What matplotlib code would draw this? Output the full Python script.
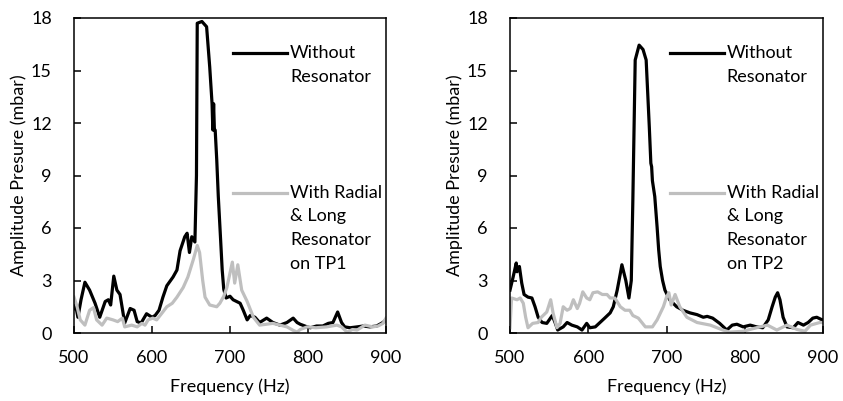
import matplotlib
matplotlib.use("Agg")
import matplotlib.pyplot as plt

plt.rcParams['font.family'] = ['Lato', 'DejaVu Sans']

# ---- Left panel (TP1) ----
f1_without = [500, 502, 505, 509, 514, 520, 527, 533, 540, 544, 547, 551, 555, 559, 565, 572, 577,
              581, 586, 593, 600, 604, 609, 614, 619, 627, 632, 636, 642, 645, 648, 651, 655, 657,
              658, 664, 670, 674, 677, 678, 679, 680, 681, 683, 685, 688, 690, 692, 695, 700,
              704, 713, 717, 722, 726, 732, 738, 747, 755, 764, 773, 781, 786, 790, 799, 803, 811,
              819, 826, 832, 838, 843, 847, 854, 863, 871, 879, 888, 896, 900]
v1_without = [1.4, 1.6, 0.9, 1.9, 2.9, 2.45, 1.7, 0.9, 1.8, 1.9, 1.6, 3.25, 2.45, 2.2, 0.57, 1.4, 1.3,
              0.65, 0.57, 1.1, 0.9, 1.0, 1.3, 2.05, 2.7, 3.2, 3.6, 4.7, 5.5, 5.7, 4.6, 5.5, 5.2, 9.0,
              17.7, 17.8, 17.5, 15.2, 13.1, 11.6, 13.1, 11.6, 11.6, 9.9, 7.8, 5.3, 3.6, 2.5, 2.0, 2.1,
              1.9, 1.7, 1.3, 0.75, 1.0, 0.9, 0.6, 0.85, 0.6, 0.45, 0.6, 0.85, 0.6, 0.5, 0.35, 0.3, 0.4,
              0.4, 0.55, 0.6, 1.2, 0.6, 0.35, 0.3, 0.35, 0.4, 0.35, 0.4, 0.6, 0.75]

f1_with = [500, 504, 508, 514, 520, 525, 529, 536, 542, 550, 556, 562, 565, 574, 581, 587, 591, 595,
           601, 606, 613, 619, 626, 632, 640, 646, 653, 658, 661, 665, 668, 674, 683, 687, 692, 696,
           703, 706, 710, 715, 722, 730, 738, 755, 773, 781, 786, 790, 799, 810, 824, 837, 843, 850,
           857, 863, 873, 883, 890, 896, 900]
v1_with = [2.05, 1.5, 0.75, 0.45, 1.3, 1.45, 0.75, 0.45, 0.85, 0.75, 0.65, 0.85, 0.35, 0.45, 0.35,
           0.55, 0.45, 0.75, 0.85, 0.75, 1.15, 1.5, 1.7, 2.05, 2.6, 3.2, 4.2, 5.0, 4.6, 3.0, 2.05,
           1.6, 1.5, 1.7, 2.1, 2.6, 4.05, 2.85, 3.9, 2.45, 1.8, 0.9, 0.45, 0.55, 0.35, 0.15, 0.05,
           0.2, 0.35, 0.3, 0.35, 0.45, 0.35, 0.05, 0.2, 0.17, 0.45, 0.35, 0.4, 0.55, 0.85]

# ---- Right panel (TP2) ----
f2_without = [500, 504, 508, 509, 512, 515, 518, 523, 528, 532, 536, 541, 547, 554, 558, 561, 568,
              573, 579, 586, 592, 598, 602, 609, 615, 621, 628, 632, 637, 641, 643, 648, 652, 655,
              657, 660, 665, 670, 674, 676, 678, 680, 681, 682, 685, 688, 690, 692, 695, 698, 704,
              713, 721, 730, 739, 747, 752, 759, 768, 777, 784, 790, 798, 807, 815, 823, 830, 835,
              839, 842, 845, 849, 854, 862, 868, 875, 881, 887, 892, 899, 900]
v2_without = [2.45, 3.2, 4.0, 3.5, 3.8, 2.85, 2.2, 2.05, 2.0, 1.5, 0.9, 0.6, 0.55, 1.0, 0.55, 0.17, 0.35,
              0.6, 0.45, 0.35, 0.17, 0.55, 0.3, 0.35, 0.6, 0.85, 1.15, 1.5, 2.45, 3.4, 3.9, 3.0, 2.0, 3.0,
              7.6, 15.6, 16.45, 16.2, 15.6, 13.7, 11.8, 9.7, 9.5, 8.7, 7.8, 6.05, 4.75, 3.8, 3.0, 2.45, 1.9,
              1.5, 1.3, 1.15, 1.05, 0.9, 0.95, 0.85, 0.55, 0.17, 0.45, 0.5, 0.35, 0.45, 0.35, 0.3, 0.75, 1.5,
              2.05, 2.3, 1.9, 0.9, 0.35, 0.3, 0.6, 0.45, 0.6, 0.85, 0.9, 0.75, 0.75]

f2_with = [500, 502, 509, 513, 517, 520, 523, 529, 536, 540, 547, 552, 555, 560, 564, 568, 573, 577,
           581, 586, 589, 593, 598, 602, 606, 612, 618, 624, 628, 634, 641, 647, 653, 657, 664, 673,
           682, 688, 696, 700, 703, 706, 711, 717, 726, 739, 756, 772, 781, 798, 815, 829, 841, 854,
           867, 877, 884, 896, 900]
v2_with = [0.3, 2.0, 1.9, 2.0, 1.7, 0.9, 0.3, 0.55, 0.6, 0.9, 1.2, 1.9, 1.15, 0.3, 0.55, 1.5, 1.3, 1.4,
           1.9, 1.4, 1.7, 2.35, 2.0, 1.9, 2.3, 2.35, 2.2, 2.2, 2.0, 2.0, 1.5, 1.3, 1.3, 1.0, 0.85, 0.35,
           0.35, 0.75, 1.5, 2.05, 2.3, 1.6, 2.2, 1.5, 0.9, 0.6, 0.45, 0.17, 0.05, 0.1, 0.3, 0.45, 0.17,
           0.45, 0.2, 0.1, 0.45, 0.6, 0.6]

x_ticks = [500, 600, 700, 800, 900]
y_ticks = [0, 3, 6, 9, 12, 15, 18]
label_without = "Without\nResonator"
labels_with = ["With Radial\n& Long\nResonator\non TP1", "With Radial\n& Long\nResonator\non TP2"]

BLACK = "#000000"
GRAY = "#BFBFBF"
FS = 13


def top_aligned(label):
    # pad with blank lines so the (centred) legend handle sits on the first line
    n = label.count("\n")
    return "\n" * n + label


fig = plt.figure(figsize=(8.43, 4.01), dpi=100)
W, H = 843, 401
ax1 = fig.add_axes([74 / W, (H - 333) / H, 312 / W, 315 / H])
ax2 = fig.add_axes([510 / W, (H - 333) / H, 313 / W, 315 / H])

panels = [
    (ax1, f1_without, v1_without, f1_with, v1_with, labels_with[0]),
    (ax2, f2_without, v2_without, f2_with, v2_with, labels_with[1]),
]

for ax, fw, vw, fr, vr, lab in panels:
    l1, = ax.plot(fw, vw, color=BLACK, lw=2.3, solid_joinstyle='round')
    l2, = ax.plot(fr, vr, color=GRAY, lw=2.3, solid_joinstyle='round')
    ax.set_xlim(500, 900)
    ax.set_ylim(0, 18)
    ax.set_xticks(x_ticks)
    ax.set_yticks(y_ticks)
    ax.tick_params(direction='in', length=5, width=1.1, labelsize=FS,
                   top=False, right=False)
    ax.tick_params(axis='y', pad=16)
    ax.tick_params(axis='x', pad=12)
    for s in ax.spines.values():
        s.set_linewidth(1.1)
    ax.set_xlabel("Frequency (Hz)", fontsize=FS, labelpad=9)
    ax.set_ylabel("Amplitude Presure (mbar)", fontsize=FS, labelpad=3)
    leg = ax.legend([l1, l2], [top_aligned(label_without), top_aligned(lab)],
                    loc='upper left', bbox_to_anchor=(0.51, 0.99),
                    frameon=False, fontsize=FS, handlelength=3.0, handletextpad=0.15,
                    labelspacing=1.58, borderaxespad=0, borderpad=0)
    for t in leg.get_texts():
        t.set_linespacing(1.6)

fig.savefig("out.png", dpi=100)
